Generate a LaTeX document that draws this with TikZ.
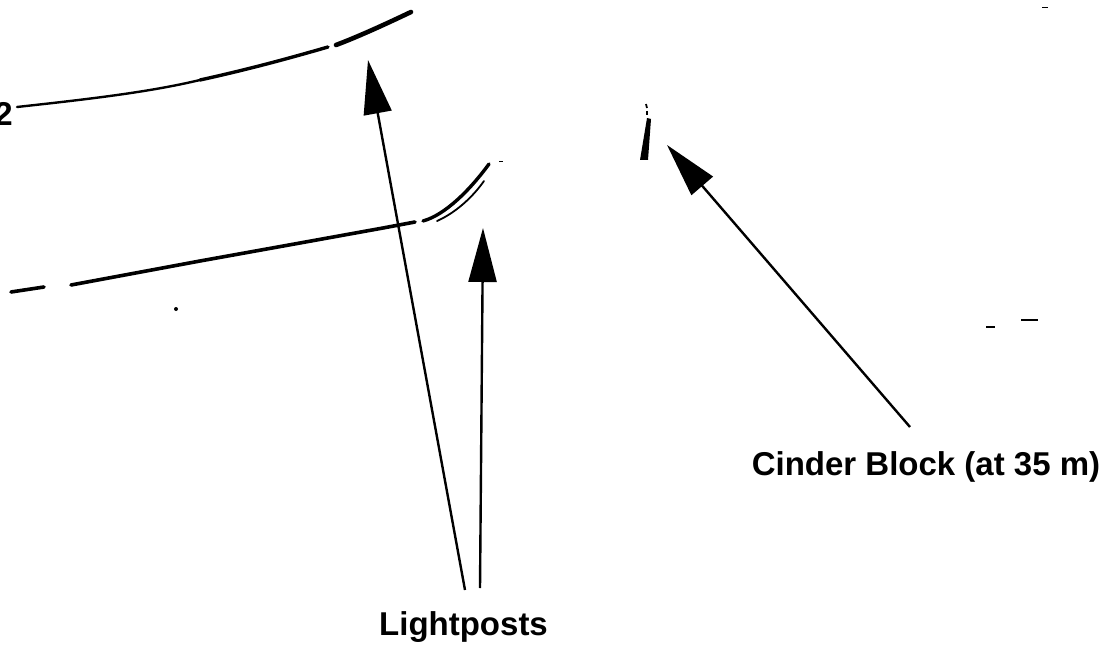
\documentclass[tikz,border=0pt]{standalone}
\usepackage{fontspec}
\setmainfont{Liberation Sans}
\usetikzlibrary{arrows.meta}
\begin{document}
\begin{tikzpicture}[x=1pt,y=-1pt,
  lbl/.style={font=\fontsize{33}{40}\selectfont\bfseries, inner sep=0pt, anchor=base},
  ptr/.style={line width=2.4pt, -{Triangle[length=54pt,width=28pt]}},
  trace/.style={line width=3.6pt, line cap=round}]
\useasboundingbox (0,0) rectangle (1116,647);
% labels
\node[lbl] (lp) at (463.5,635) {Lightposts};
\node[lbl] (cb) at (926,475) {Cinder Block (at 35 m)};
\node[lbl, anchor=base east] (two) at (13,126) {2};
% feature coordinates
\coordinate (post1) at (368,60);
\coordinate (post2) at (483,228);
\coordinate (block) at (667,145);
\coordinate (lp1) at (465,590);
\coordinate (lp2) at (480,588);
\coordinate (cb1) at (910,427);
% upper trace
\draw[line width=2.4pt, line cap=round] (17,107) .. controls (90,99) and (150,92) .. (200,80);
\draw[line width=3.4pt, line cap=round] (200,80) .. controls (250,69) and (290,58) .. (328,47);
\draw[line width=4.6pt, line cap=round] (336,45) .. controls (360,36) and (390,22) .. (411,12);
% lower trace
\draw[trace] (11,292) -- (44,287);
\draw[trace] (71,285) -- (200,261) -- (300,243) -- (383,228) -- (415,222);
\draw[line width=3.4pt, line cap=round] (423,221) .. controls (445,215) and (470,190) .. (489,164);
\draw[line width=1.8pt, line cap=round] (437,221) .. controls (455,213) and (472,198) .. (484,181);
\draw[line width=1pt] (499,162) -- (503,162);
% cinder block echo
\fill (647,118) -- (651,119) -- (648,160) -- (640,160) -- cycle;
\draw[line width=1.8pt] (646,104) -- (647,108);
\draw[line width=1.8pt] (647,111) -- (647,115);
% scan specks
\fill (176,309) circle (2pt);
\draw[line width=2pt] (1021,320) -- (1038,320);
\draw[line width=1.5pt] (986,327) -- (995,327);
\draw[line width=1pt] (1042,8) -- (1048,8);
% pointers
\draw[ptr] (lp1) -- (post1);
\draw[ptr] (lp2) -- (post2);
\draw[ptr] (cb1) -- (block);
\end{tikzpicture}
\end{document}
